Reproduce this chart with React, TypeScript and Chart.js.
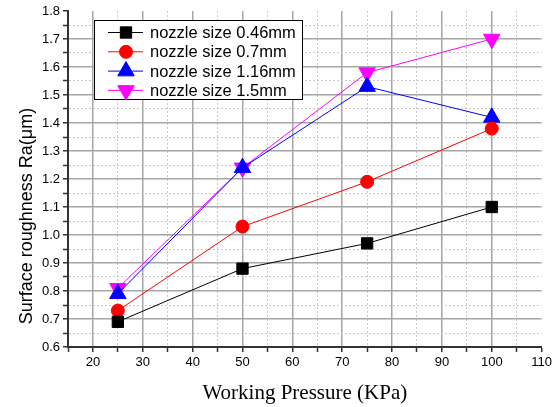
import React, { useEffect, useRef } from "react";
import { Chart, registerables } from "chart.js";
import { drawPoint } from "chart.js/helpers";

Chart.register(...registerables);

const pressures = [25, 50, 75, 100];
const nozzle046 = [0.69, 0.88, 0.97, 1.10];
const nozzle07 = [0.73, 1.03, 1.19, 1.38];
const nozzle116 = [0.79, 1.24, 1.53, 1.42];
const nozzle15 = [0.81, 1.24, 1.58, 1.70];
const seriesLabels = ["nozzle size 0.46mm", "nozzle size 0.7mm", "nozzle size 1.16mm", "nozzle size 1.5mm"];
const xTitle = "Working Pressure (KPa)";
const yTitle = "Surface roughness Ra(μm)";

const MAJOR = "#a6a6a6";
const MINOR = "#c8c8c8";

const legendPlugin = {
  id: "boxLegend",
  afterDraw(chart: any) {
    const ctx = chart.ctx;
    ctx.save();
    const x0 = 94, y0 = 20, w = 208, h = 79;
    ctx.fillStyle = "#fff";
    ctx.fillRect(x0, y0, w, h);
    ctx.strokeStyle = "#000";
    ctx.lineWidth = 1;
    ctx.strokeRect(x0 + 0.5, y0 + 0.5, w, h);
    chart.data.datasets.forEach((ds: any, i: number) => {
      const cy = 32.5 + i * 19.3;
      ctx.strokeStyle = ds.borderColor;
      ctx.lineWidth = 1;
      ctx.beginPath();
      ctx.moveTo(108, cy);
      ctx.lineTo(143, cy);
      ctx.stroke();
      ctx.fillStyle = ds.pointBackgroundColor;
      ctx.strokeStyle = ds.pointBorderColor;
      drawPoint(ctx, { pointStyle: ds.pointStyle, rotation: ds.pointRotation || 0, radius: ds.pointRadius, borderWidth: 1 }, 126, cy);
      ctx.fillStyle = "#000";
      ctx.font = "16.5px 'Liberation Sans', Arial, sans-serif";
      ctx.textAlign = "left";
      ctx.textBaseline = "middle";
      ctx.fillText(ds.label, 150, cy + 1);
    });
    // y axis title
    ctx.save();
    ctx.translate(27, 216);
    ctx.rotate(-Math.PI / 2);
    ctx.fillStyle = "#000";
    ctx.font = "18px 'Liberation Sans', Arial, sans-serif";
    ctx.textAlign = "center";
    ctx.textBaseline = "middle";
    ctx.fillText(yTitle, 0, 0);
    ctx.restore();
    ctx.restore();
  },
};

function mk(label: string, data: number[], color: string, style: string, radius: number, rotation = 0) {
  return {
    label,
    data: pressures.map((x, i) => ({ x, y: data[i] })),
    borderColor: color,
    backgroundColor: color,
    pointBackgroundColor: color,
    pointBorderColor: color,
    borderWidth: 1,
    pointStyle: style,
    pointRadius: radius,
    pointRotation: rotation,
    pointBorderWidth: 1,
    tension: 0,
  };
}

export default function App() {
  const ref = useRef<HTMLCanvasElement>(null);
  useEffect(() => {
    if (!ref.current) return;
    const chart = new Chart(ref.current, {
      type: "line",
      data: {
        datasets: [
          mk(seriesLabels[0], nozzle046, "#000000", "rect", 8),
          mk(seriesLabels[1], nozzle07, "#ff0000", "circle", 6.5),
          mk(seriesLabels[2], nozzle116, "#0000ff", "triangle", 9.5),
          mk(seriesLabels[3], nozzle15, "#ff00ff", "triangle", 9.5, 180),
        ] as any,
      },
      options: {
        animation: false,
        responsive: false,
        devicePixelRatio: 1,
        layout: { padding: { top: 11, right: 13, left: 0, bottom: 0 } },
        plugins: { legend: { display: false }, tooltip: { enabled: false } },
        scales: {
          x: {
            type: "linear",
            min: 15,
            max: 110,
            afterFit: (s: any) => { s.height = 60; },
            ticks: {
              stepSize: 5,
              autoSkip: false,
              maxRotation: 0,
              color: "#000",
              padding: 3,
              font: { family: "'Liberation Sans', Arial, sans-serif", size: 13 },
              callback: (v: any) => (Number(v) % 10 === 0 ? String(v) : ""),
            },
            grid: {
              color: (c: any) => {
                const v = c.tick ? c.tick.value : 0;
                if (v >= 110) return "rgba(0,0,0,0)";
                return v % 10 === 0 ? MAJOR : MINOR;
              },
              lineWidth: (c: any) => (c.tick && c.tick.value % 10 === 0 ? 1.5 : 1),
              tickColor: "#333",
              tickLength: 5,
              tickWidth: 1.5,
            },
            border: {
              display: true,
              color: "#333",
              width: 2,
              dash: (c: any) => (c.tick && c.tick.value % 10 !== 0 ? [2, 2] : []),
            },
            title: {
              display: true,
              text: xTitle,
              color: "#000",
              font: { family: "'Liberation Serif', 'Times New Roman', serif", size: 21, weight: "normal" },
              padding: { top: 2, bottom: 1 },
            },
          },
          y: {
            type: "linear",
            min: 0.6,
            max: 1.8,
            afterFit: (s: any) => { s.width = 68; },
            ticks: {
              stepSize: 0.05,
              autoSkip: false,
              color: "#000",
              padding: 3,
              font: { family: "'Liberation Sans', Arial, sans-serif", size: 13 },
              callback: (v: any) => {
                const k = Math.round(Number(v) * 100);
                return k % 10 === 0 ? (k / 100).toFixed(1) : "";
              },
            },
            grid: {
              color: (c: any) => {
                const k = c.tick ? Math.round(c.tick.value * 100) : 0;
                if (k >= 180) return "rgba(0,0,0,0)";
                return k % 10 === 0 ? MAJOR : MINOR;
              },
              lineWidth: (c: any) => (c.tick && Math.round(c.tick.value * 100) % 10 === 0 ? 1.5 : 1),
              tickColor: "#333",
              tickLength: 5,
              tickWidth: 1.5,
            },
            border: {
              display: true,
              color: "#333",
              width: 2,
              dash: (c: any) => (c.tick && Math.round(c.tick.value * 100) % 10 !== 0 ? [2, 2] : []),
            },
          },
        },
      },
      plugins: [legendPlugin],
    });
    return () => chart.destroy();
  }, []);
  return (
    <div style={{ position: "absolute", left: 0, top: 0, width: 555, height: 407, background: "#fff" }}>
      <canvas ref={ref} width={555} height={407} />
    </div>
  );
}
